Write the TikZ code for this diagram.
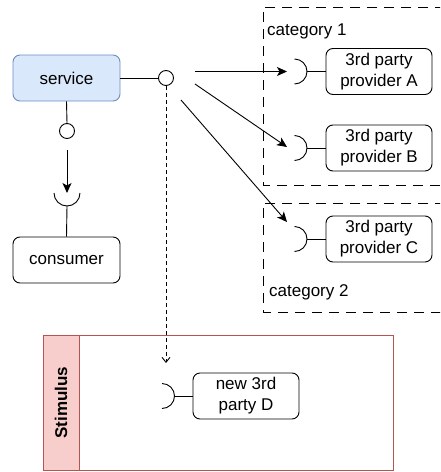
\documentclass[tikz,border=0pt]{standalone}
\usepackage{fontspec}
\setmainfont{Liberation Sans}
\usetikzlibrary{arrows.meta}
\definecolor{svcfill}{HTML}{DAE8FC}
\definecolor{svcdraw}{HTML}{6C8EBF}
\definecolor{stimfill}{HTML}{F8CECC}
\definecolor{stimdraw}{HTML}{B85450}
\tikzset{
  box/.style={draw, line width=0.9pt, rounded corners=7pt, minimum width=107pt, minimum height=46pt, inner sep=0pt, align=center, font=\fontsize{17}{21}\selectfont},
  pbox/.style={box, minimum width=106pt},
  lolli/.style={draw, circle, line width=0.9pt, minimum size=15pt, inner sep=0pt, fill=white},
  conn/.style={line width=0.9pt},
  arr/.style={line width=0.9pt, -{Stealth[length=10pt,width=9pt,inset=2.5pt]}},
  dotarr/.style={line width=0.9pt, dash pattern=on 4pt off 3pt, -{Straight Barb[length=5pt,width=8pt]}},
  catbox/.style={line width=0.9pt, dash pattern=on 10pt off 7pt},
  lbl/.style={font=\fontsize{17}{21}\selectfont, anchor=west, inner sep=0pt},
  sock/.style={line width=0.9pt}
}
\begin{document}
\begin{tikzpicture}[x=1pt,y=1pt]
\useasboundingbox (0,0) rectangle (440,-472);
\clip (0,0) rectangle (440,-472);
% category containers
\draw[catbox] (445,-7) -- (263,-7) -- (263,-185) -- (445,-185);
\draw[catbox] (445,-203) -- (263,-203) -- (263,-312) -- (445,-312);
\node[lbl] (cat1) at (267,-31) {category 1};
\node[lbl] (cat2) at (269,-292) {category 2};
% stimulus container
\draw[stimdraw, line width=0.9pt, fill=white] (43,-335) rectangle (393,-470);
\draw[stimdraw, line width=0.9pt, fill=stimfill] (43,-335) rectangle (79,-470);
\node[rotate=90, font=\fontsize{17}{21}\selectfont\bfseries] (stim) at (61,-402.5) {Stimulus};
% service
\node[box, fill=svcfill, draw=svcdraw] (service) at (66.5,-78) {service};
\node[box] (consumer) at (66.5,-260) {consumer};
\node[lolli] (l1) at (166,-78) {};
\node[lolli] (l2) at (67,-131) {};
\draw[conn] (service.east) -- (l1.west);
\draw[conn] (service.south) -- (l2.north);
% consumer socket
\coordinate (sc) at (67,-193);
\draw[sock] (sc) ++(-13,0) arc[start angle=180, end angle=360, radius=13pt];
\coordinate (scb) at (67,-206);
\draw[conn] (scb) -- (consumer.north);
\coordinate (cs) at (67,-150);
\draw[arr] (cs) -- (sc);
% providers
\node[pbox] (pa) at (379,-71.5) {3rd party\\provider A};
\node[pbox] (pb) at (379,-148) {3rd party\\provider B};
\node[pbox] (pc) at (379,-239) {3rd party\\provider C};
\node[pbox] (pd) at (246,-396) {new 3rd\\party D};
\foreach \s/\p/\y in {sa/pa/71.5, sb/pb/148, sc2/pc/239, sd/pd/396}{
  \coordinate (\s) at (294.5,-\y);
}
\coordinate (sd) at (162,-396);
\foreach \s/\p in {sa/pa, sb/pb, sc2/pc, sd/pd}{
  \draw[sock] (\s) ++(0,12.5) arc[start angle=90, end angle=-90, radius=12.5pt];
  \draw[conn] ([xshift=12.5pt]\s) -- (\p.west);
}
% arrows to providers
\coordinate (a1) at (195,-71.5);
\coordinate (a2) at (195,-84);
\coordinate (a3) at (181,-100);
\coordinate (ta) at (287,-71.5);
\coordinate (tb) at (287,-147);
\coordinate (tc) at (287,-222);
\draw[arr] (a1) -- (ta);
\draw[arr] (a2) -- (tb);
\draw[arr] (a3) -- (tc);
% dotted arrow
\coordinate (td) at (166,-363);
\draw[dotarr] (l1.south) -- (td);
\end{tikzpicture}
\end{document}
